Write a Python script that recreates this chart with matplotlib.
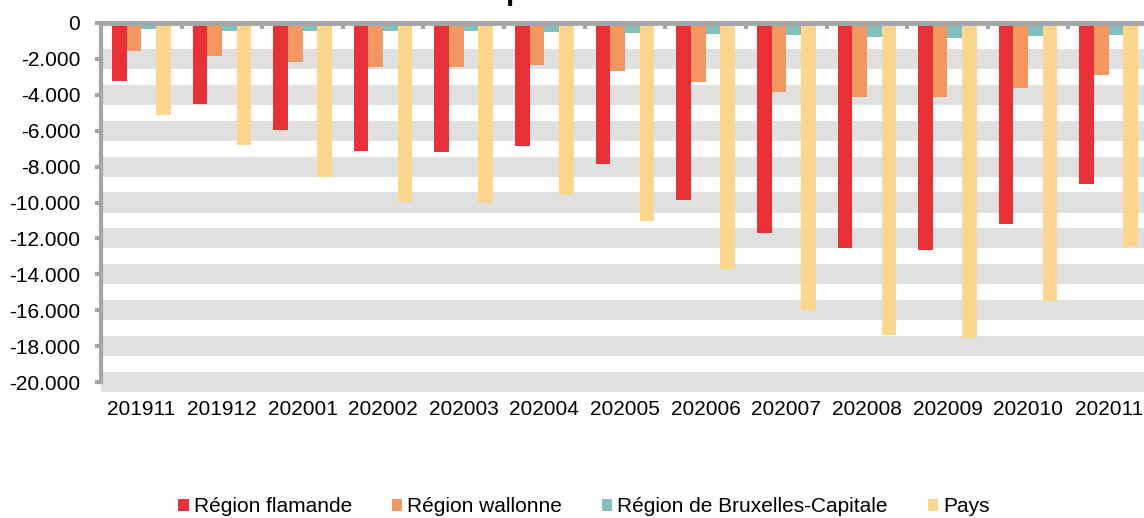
import matplotlib
matplotlib.use("Agg")
import matplotlib.pyplot as plt
import numpy as np
from matplotlib.ticker import FuncFormatter, FixedLocator

plt.rcParams['font.family'] = ['Liberation Sans', 'DejaVu Sans']

categories = ["201911", "201912", "202001", "202002", "202003", "202004", "202005",
              "202006", "202007", "202008", "202009", "202010", "202011"]
flamande = [-3250, -4530, -5980, -7110, -7170, -6870, -7880, -9840, -11700, -12550, -12650, -11210, -8990]
wallonne = [-1540, -1860, -2190, -2430, -2430, -2320, -2670, -3270, -3860, -4140, -4140, -3600, -2880]
bruxelles = [-350, -450, -450, -450, -450, -480, -540, -600, -670, -780, -820, -720, -650]
pays = [-5110, -6800, -8560, -9990, -10010, -9600, -11030, -13700, -15990, -17380, -17530, -15490, -12460]

series_names = ["Région flamande", "Région wallonne", "Région de Bruxelles-Capitale", "Pays"]
colors = ["#E83137", "#F1975F", "#80C0C0", "#FDD68E"]
title_text = "précédent"

W, H = 1144, 518
fig = plt.figure(figsize=(W / 100, H / 100), dpi=100)
ax = fig.add_axes([101 / W, 1 - 382 / H, 1048 / W, (382 - 23) / H])

x = np.arange(len(categories))
w = 0.182
data = [flamande, wallonne, bruxelles, pays]
for i, (vals, c, name) in enumerate(zip(data, colors, series_names)):
    ax.bar(x + (i - 1.5) * w, vals, width=w, color=c, label=name, zorder=3, linewidth=0)

ax.set_xlim(-0.5, len(categories) - 0.5)
ax.set_ylim(-20000, 0)

grid_col = "#E0E0E0"
spine_col = "#A6A6A6"
yt = np.arange(-20000, 1, 2000)
half = 560
for v in yt:
    if v < 0:
        ax.axhspan(v - half, v + half, xmin=0, xmax=1, color=grid_col, lw=0,
                   zorder=0, clip_on=False)

ax.set_yticks(yt)
ax.yaxis.set_major_formatter(FuncFormatter(lambda v, p: f"{int(round(v)):,}".replace(",", ".")))

for s in ["right", "bottom"]:
    ax.spines[s].set_visible(False)
ax.spines["left"].set_color(spine_col)
ax.spines["left"].set_linewidth(3)
ax.spines["left"].set_zorder(5)
ax.spines["top"].set_color(spine_col)
ax.spines["top"].set_linewidth(3.5)
ax.spines["top"].set_zorder(5)

ax.tick_params(axis="y", direction="out", length=4, width=3, color=spine_col,
               labelsize=15, pad=11, labelcolor="black")

ax.set_xticks(x)
ax.set_xticklabels(categories)
ax.xaxis.set_minor_locator(FixedLocator(np.arange(-0.5, len(categories), 1.0)))
ax.tick_params(axis="x", which="major", length=0, labelsize=15, pad=13, bottom=True, top=False)
ax.tick_params(axis="x", which="minor", top=True, bottom=False, direction="in",
               length=4, width=3, color=spine_col)

fig.text(577 / W, 1 - 0.5 / H, title_text, ha="center", va="baseline",
         fontsize=21.5, fontweight="bold")

leg = fig.legend(loc="center", bbox_to_anchor=(584 / W, 1 - 507 / H), ncol=4,
                 frameon=False, fontsize=15, handlelength=0.5, handleheight=0.5,
                 handletextpad=0.25, columnspacing=1.9, borderpad=0)

fig.savefig("out.png", dpi=100)
